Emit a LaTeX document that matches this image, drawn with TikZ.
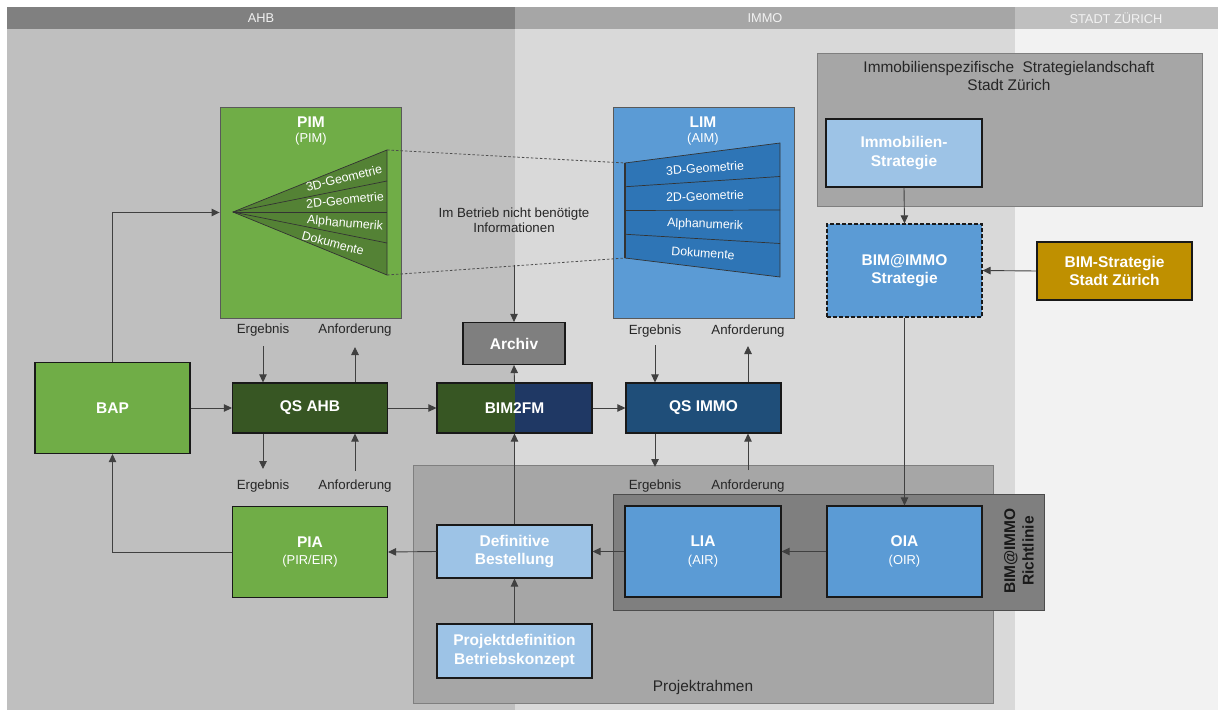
\documentclass[tikz,border=0pt]{standalone}
\usepackage{fontspec}
\setmainfont{Liberation Sans}
\usetikzlibrary{arrows.meta}

\definecolor{bgahb}{HTML}{BFBFBF}
\definecolor{bgimmo}{HTML}{D9D9D9}
\definecolor{bgstadt}{HTML}{F2F2F2}
\definecolor{hdahb}{HTML}{808080}
\definecolor{hdimmo}{HTML}{A6A6A6}
\definecolor{hdstadt}{HTML}{BFBFBF}
\definecolor{ahbgreen}{HTML}{70AD47}
\definecolor{ahbdark}{HTML}{375623}
\definecolor{fangreen}{HTML}{548235}
\definecolor{immoblue}{HTML}{5B9BD5}
\definecolor{trapblue}{HTML}{2E75B6}
\definecolor{lightblue}{HTML}{9DC3E6}
\definecolor{qsnavy}{HTML}{1F4E79}
\definecolor{immonavy}{HTML}{1F3864}
\definecolor{archgray}{HTML}{7F7F7F}
\definecolor{framegray}{HTML}{A6A6A6}
\definecolor{stadtgold}{HTML}{BF9000}
\definecolor{textdark}{HTML}{262626}

\newcommand\fntbold{\fontsize{15.5}{18.5}\selectfont\bfseries}
\newcommand\fntsub{\fontsize{12.9}{15}\selectfont\mdseries}
\newcommand\fntlbl{\fontsize{13.3}{15}\selectfont}
\newcommand\fntfan{\fontsize{12.4}{14}\selectfont}
\newcommand\fnthead{\fontsize{12.8}{14}\selectfont}
\newcommand\fntframe{\fontsize{15.4}{18}\selectfont}

\tikzset{
  box/.style={draw=black!90, line width=1.2pt, text=white, font=\fntbold, align=center, inner sep=0pt},
  panel/.style={draw=black!65, line width=0.9pt, inner sep=0pt},
  frame/.style={draw=archgray, line width=0.9pt, fill=framegray},
  conn/.style={draw=black!75, line width=0.9pt},
  lbl/.style={text=textdark, font=\fntlbl, inner sep=0pt},
  head/.style={text=white!95!black, font=\fnthead, inner sep=0pt},
  fanline/.style={draw=black!80, line width=0.7pt},
  fantext/.style={text=white, font=\fntfan, inner sep=0pt},
  dashline/.style={draw=black!70, line width=0.8pt, dash pattern=on 2.5pt off 2pt}
}

\begin{document}
\begin{tikzpicture}[x=1pt,y=-1pt,>={Triangle[length=8pt,width=7.5pt]}]
\useasboundingbox (0,0) rectangle (1218,711);
% Spalten und Kopfzeile
\fill[bgahb] (7,29) rectangle (515,710);
\fill[bgimmo] (515,29) rectangle (1015,710);
\fill[bgstadt] (1015,29) rectangle (1218,710);
\fill[hdahb] (7,7) rectangle (515,29);
\fill[hdimmo] (515,7) rectangle (1015,29);
\fill[hdstadt] (1015,7) rectangle (1218,29);
\node[head] (hahb) at (261,18) {AHB};
\node[head] (himmo) at (765,18) {IMMO};
\node[head] (hstadt) at (1116,18) {STADT ZÜRICH};

% Rahmen
\draw[frame] (413,465) rectangle (993,703);
\node[lbl, font=\fntframe] (prahmen) at (703,688) {Projektrahmen};
\draw[frame, fill=archgray, draw=black!70] (613,494) rectangle (1044,610);
\node[text=black!90, font=\fntbold, align=center, rotate=90, inner sep=0pt] (richtl) at (1019,551) {BIM@IMMO\\Richtlinie};
\draw[frame] (817,53) rectangle (1202,206);
\node[lbl, font=\fntframe, align=center] (strattitle) at (1009,76) {Immobilienspezifische\ \ Strategielandschaft\\Stadt Zürich};

% PIM
\node[panel, fill=ahbgreen, minimum width=181pt, minimum height=211pt] (pim) at (310.5,212.5) {};
\node[text=white, font=\fntbold, inner sep=0pt] (pimtitle) at (311,122) {PIM};
\node[text=white, font=\fntsub, inner sep=0pt] (pimsub) at (311,139) {(PIM)};
\coordinate (fanapex) at (233,212);
\coordinate (fantop) at (387,150);
\coordinate (fanbot) at (387,275);
\fill[fangreen] (fanapex) -- (fantop) -- (fanbot) -- cycle;
\draw[fanline] (fanapex) -- (fantop) -- (fanbot) -- cycle;
\draw[fanline] (fanapex) -- (387,181);
\draw[fanline] (fanapex) -- (387,212);
\draw[fanline] (fanapex) -- (387,243);
\node[fantext, rotate=14] (pim3d) at (344,178) {3D-Geometrie};
\node[fantext, rotate=6] (pim2d) at (345,200) {2D-Geometrie};
\node[fantext, rotate=-5] (pimalpha) at (345,224) {Alphanumerik};
\node[fantext, rotate=-15] (pimdok) at (333,243) {Dokumente};

% LIM
\node[panel, fill=immoblue, minimum width=181pt, minimum height=211pt] (lim) at (703.5,212.5) {};
\node[text=white, font=\fntbold, inner sep=0pt] (limtitle) at (703,122) {LIM};
\node[text=white, font=\fntsub, inner sep=0pt] (limsub) at (703,139) {(AIM)};
\coordinate (trapTL) at (625,163);
\coordinate (trapTR) at (780,143);
\coordinate (trapBR) at (780,277);
\coordinate (trapBL) at (625,258);
\fill[trapblue] (trapTL) -- (trapTR) -- (trapBR) -- (trapBL) -- cycle;
\draw[fanline] (trapTL) -- (trapTR) -- (trapBR) -- (trapBL) -- cycle;
\draw[fanline, line width=1.6pt] (trapTL) -- (trapBL);
\draw[fanline] (625,186.75) -- (780,176.5);
\draw[fanline] (625,210.5) -- (780,210);
\draw[fanline] (625,234.25) -- (780,243.5);
\node[fantext, rotate=4] (lim3d) at (705,168) {3D-Geometrie};
\node[fantext, rotate=2] (lim2d) at (705,196) {2D-Geometrie};
\node[fantext, rotate=-2] (limalpha) at (705,225) {Alphanumerik};
\node[fantext, rotate=-4] (limdok) at (703,253) {Dokumente};
\draw[dashline] (fantop) -- (trapTL);
\draw[dashline] (fanbot) -- (trapBL);

\node[lbl, align=center] (info) at (514,220) {Im Betrieb nicht benötigte\\Informationen};
\coordinate (infoend) at (514,265);

% Kästen
\node[box, fill=archgray, minimum width=102pt, minimum height=42pt] (archiv) at (514,343.5) {Archiv};
\node[box, fill=ahbgreen, minimum width=155pt, minimum height=91pt] (bap) at (112.5,408) {BAP};
\node[box, fill=ahbdark, minimum width=155pt, minimum height=50pt] (qsahb) at (310,408) {QS AHB};
\node[box, minimum width=155pt, minimum height=50pt,
  path picture={\fill[ahbdark] (path picture bounding box.north west) rectangle (path picture bounding box.south);
    \fill[immonavy] (path picture bounding box.north) rectangle (path picture bounding box.south east);}] (bim2fm) at (514.5,408) {BIM2FM};
\node[box, fill=qsnavy, minimum width=155pt, minimum height=50pt] (qsimmo) at (703.5,408) {QS IMMO};
\node[box, fill=ahbgreen, minimum width=155pt, minimum height=91pt] (pia) at (310,552) {PIA\\[-1pt]{\fntsub (PIR/EIR)}};
\node[box, fill=lightblue, minimum width=155pt, minimum height=53pt] (defbest) at (514.5,551.5) {Definitive\\Bestellung};
\node[box, fill=lightblue, minimum width=155pt, minimum height=54pt] (projdef) at (514.5,651) {Projektdefinition\\Betriebskonzept};
\node[box, fill=immoblue, minimum width=156pt, minimum height=91pt] (lia) at (703,551.5) {LIA\\[-1pt]{\fntsub (AIR)}};
\node[box, fill=immoblue, minimum width=155pt, minimum height=91pt] (oia) at (904.5,551.5) {OIA\\[-1pt]{\fntsub (OIR)}};
\node[box, fill=lightblue, minimum width=156pt, minimum height=68pt] (immostrat) at (904,153) {Immobilien-\\Strategie};
\node[box, fill=immoblue, dash pattern=on 4pt off 2pt, minimum width=155pt, minimum height=93pt] (bimimmo) at (904.5,270.5) {BIM@IMMO\\Strategie};
\node[box, fill=stadtgold, minimum width=155pt, minimum height=58pt] (bimstadt) at (1114.5,271) {BIM-Strategie\\Stadt Zürich};

% Ergebnis / Anforderung
\node[lbl] (ergahbtop) at (263,330) {Ergebnis};
\node[lbl] (anfahbtop) at (355,330) {Anforderung};
\node[lbl] (ergahbbot) at (263,486) {Ergebnis};
\node[lbl] (anfahbbot) at (355,486) {Anforderung};
\node[lbl] (ergimmotop) at (655,331) {Ergebnis};
\node[lbl] (anfimmotop) at (748,331) {Anforderung};
\node[lbl] (ergimmobot) at (655,486) {Ergebnis};
\node[lbl] (anfimmobot) at (748,486) {Anforderung};
\coordinate (ergahbin) at (263,346);
\coordinate (anfahbout) at (355,347);
\coordinate (ergahbout) at (263,469);
\coordinate (anfahbin) at (355,471);
\coordinate (ergimmoin) at (655,345);
\coordinate (anfimmoout) at (748,346);
\coordinate (ergimmoout) at (655,467);
\coordinate (anfimmoin) at (748,470);

% Verbindungen
\draw[conn,->] (bap.north) |- (pim.west);
\draw[conn,->] (pia.west) -| (bap.south);
\draw[conn,->] (bap.east) -- (qsahb.west);
\draw[conn,->] (qsahb.east) -- (bim2fm.west);
\draw[conn,->] (bim2fm.east) -- (qsimmo.west);
\draw[conn,->] (bim2fm.north) -- (archiv.south);
\draw[conn,->] (infoend) -- (archiv.north);
\draw[conn,->] (defbest.north) -- (bim2fm.south);
\draw[conn,->] (projdef.north) -- (defbest.south);
\draw[conn,->] (oia.west) -- (lia.east);
\draw[conn,->] (lia.west) -- (defbest.east);
\draw[conn,->] (defbest.west) -- (pia.east);
\draw[conn,->] (immostrat.south) -- (bimimmo.north);
\draw[conn,->] (bimstadt.west) -- (bimimmo.east);
\draw[conn,->] (bimimmo.south) -- (oia.north);
\draw[conn,->] (ergahbin) -- (ergahbin |- qsahb.north);
\draw[conn,->] (anfahbout |- qsahb.north) -- (anfahbout);
\draw[conn,->] (ergahbout |- qsahb.south) -- (ergahbout);
\draw[conn,->] (anfahbin) -- (anfahbin |- qsahb.south);
\draw[conn,->] (ergimmoin) -- (ergimmoin |- qsimmo.north);
\draw[conn,->] (anfimmoout |- qsimmo.north) -- (anfimmoout);
\draw[conn,->] (ergimmoout |- qsimmo.south) -- (ergimmoout);
\draw[conn,->] (anfimmoin) -- (anfimmoin |- qsimmo.south);
\end{tikzpicture}
\end{document}
